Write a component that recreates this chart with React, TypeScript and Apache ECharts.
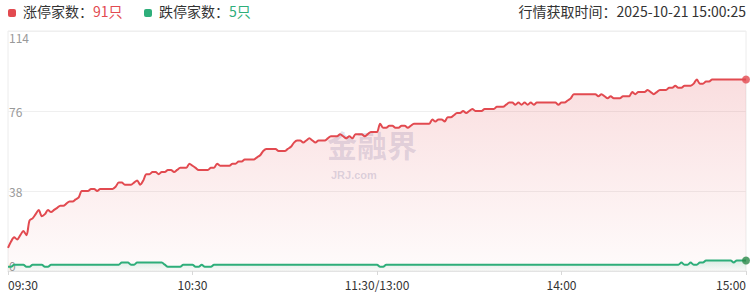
import React, { useEffect, useRef } from "react";
import * as echarts from "echarts";

const timeTicks = ["09:30", "10:30", "11:30/13:00", "14:00", "15:00"];
const upTitle = "涨停家数：";
const downTitle = "跌停家数：";
const updateText = "行情获取时间：2025-10-21 15:00:25";

const upCounts = [
  11, 14, 16, 15, 17, 19, 17, 24, 25, 27, 29, 26, 27, 29, 28, 29, 30, 31, 31, 32,
  33, 33, 34, 35, 38, 38, 38, 39, 39, 38, 39, 39, 39, 39, 39, 40, 42, 42, 41, 41,
  41, 42, 43, 41, 43, 46, 46, 47, 47, 46, 47, 47, 48, 48, 47, 48, 49, 49, 49, 51,
  50, 49, 48, 48, 48, 48, 49, 49, 51, 50, 50, 50, 50, 51, 51, 52, 52, 53, 53, 53,
  53, 54, 55, 57, 58, 58, 58, 58, 57, 57, 57, 58, 59, 61, 62, 62, 61, 62, 63, 62,
  61, 62, 62, 62, 63, 64, 64, 64, 65, 64, 63, 64, 63, 65, 65, 65, 64, 65, 66, 66,
  66, 70, 68, 68, 69, 69, 68, 68, 69, 69, 68, 69, 70, 70, 70, 70, 70, 70, 72, 71,
  72, 72, 71, 73, 73, 74, 75, 75, 76, 75, 76, 77, 76, 76, 76, 77, 77, 77, 77, 78,
  78, 78, 79, 80, 80, 79, 80, 79, 80, 79, 80, 79, 80, 80, 80, 80, 80, 80, 80, 79,
  80, 80, 81, 82, 84, 84, 84, 84, 84, 84, 84, 84, 83, 84, 83, 82, 83, 82, 82, 82,
  83, 83, 83, 85, 84, 85, 85, 85, 86, 85, 84, 85, 86, 86, 86, 87, 87, 88, 87, 87,
  88, 88, 88, 89, 91, 89, 89, 90, 90, 91, 91, 91, 91, 91, 91, 91, 91, 91, 91, 91,
  91,
];

const downCounts = [
  2, 2, 3, 3, 3, 3, 2, 2, 3, 3, 3, 3, 2, 2, 3, 3, 3, 3, 3, 3,
  3, 3, 3, 3, 3, 3, 3, 3, 3, 3, 3, 3, 3, 3, 3, 3, 3, 4, 4, 4,
  3, 3, 4, 4, 4, 4, 4, 4, 4, 4, 4, 3, 2, 2, 2, 2, 2, 3, 3, 3,
  3, 2, 2, 3, 2, 2, 2, 3, 3, 3, 3, 3, 3, 3, 3, 3, 3, 3, 3, 3,
  3, 3, 3, 3, 3, 3, 3, 3, 3, 3, 3, 3, 3, 3, 3, 3, 3, 3, 3, 3,
  3, 3, 3, 3, 3, 3, 3, 3, 3, 3, 3, 3, 3, 3, 3, 3, 3, 3, 3, 3,
  3, 2, 2, 3, 3, 3, 3, 3, 3, 3, 3, 3, 3, 3, 3, 3, 3, 3, 3, 3,
  3, 3, 3, 3, 3, 3, 3, 3, 3, 3, 3, 3, 3, 3, 3, 3, 3, 3, 3, 3,
  3, 3, 3, 3, 3, 3, 3, 3, 3, 3, 3, 3, 3, 3, 3, 3, 3, 3, 3, 3,
  3, 3, 3, 3, 3, 3, 3, 3, 3, 3, 3, 3, 3, 3, 3, 3, 3, 3, 3, 3,
  3, 3, 3, 3, 3, 3, 3, 3, 3, 3, 3, 3, 3, 3, 3, 3, 3, 3, 3, 4,
  3, 3, 4, 3, 3, 4, 4, 5, 5, 5, 5, 5, 5, 5, 5, 5, 4, 5, 5, 5,
  5,
];

const RED = "#e24a50";
const GREEN = "#2eae7a";
const FONT = "'Noto Sans CJK SC', 'Microsoft YaHei', sans-serif";

export default function App() {
  const ref = useRef<HTMLDivElement>(null);
  useEffect(() => {
    if (!ref.current) return;
    const chart = echarts.init(ref.current, undefined, { renderer: "svg" });
    const upData = upCounts.map((v, i) => [i, v]);
    const downData = downCounts.map((v, i) => [i, v]);
    const lastIdx = upCounts.length - 1;
    chart.setOption({
      animation: false,
      textStyle: { fontFamily: FONT },
      grid: {
        left: 8,
        right: 8,
        top: 31,
        bottom: 28,
        show: true,
        borderColor: "#ececec",
        borderWidth: 1,
      },
      graphic: [
        { type: "rect", left: 8, top: 9, shape: { width: 8, height: 8, r: 2 }, style: { fill: RED } },
        {
          type: "text",
          left: 23,
          top: 4,
          style: {
            text: `{a|${upTitle}}{b|${upCounts[lastIdx]}只}`,
            rich: {
              a: { fontSize: 14, fill: "#333", fontFamily: FONT },
              b: { fontSize: 14, fill: RED, fontFamily: FONT },
            },
          },
        },
        { type: "rect", left: 144, top: 9, shape: { width: 8, height: 8, r: 2 }, style: { fill: GREEN } },
        {
          type: "text",
          left: 159,
          top: 4,
          style: {
            text: `{a|${downTitle}}{b|${downCounts[lastIdx]}只}`,
            rich: {
              a: { fontSize: 14, fill: "#333", fontFamily: FONT },
              b: { fontSize: 14, fill: GREEN, fontFamily: FONT },
            },
          },
        },
        {
          type: "text",
          right: 8,
          top: 4,
          style: { text: updateText, fontSize: 14, fill: "#333", fontFamily: FONT },
        },
        {
          type: "text",
          left: 327,
          top: 129,
          silent: true,
          style: {
            text: "金融界",
            fontSize: 30,
            lineHeight: 30,
            fontWeight: "bold",
            fill: "rgba(95,105,160,0.2)",
            fontFamily: FONT,
          },
        },
        {
          type: "text",
          left: 331,
          top: 169,
          silent: true,
          style: {
            text: "JRJ.com",
            fontSize: 11,
            lineHeight: 11,
            fontWeight: "bold",
            fill: "rgba(95,105,160,0.24)",
            fontFamily: "Arial, sans-serif",
          },
        },
      ],
      xAxis: {
        type: "value",
        min: 0,
        max: 240,
        interval: 60,
        axisLine: { show: true, lineStyle: { color: "#e3e3e3" } },
        axisTick: { show: true, length: 4, lineStyle: { color: "#d8d8d8" } },
        splitLine: { show: false },
        axisLabel: {
          color: "#333",
          fontSize: 12,
          margin: 7,
          fontFamily: FONT,
          alignMinLabel: "left",
          alignMaxLabel: "right",
          formatter: (v: number) => timeTicks[Math.round(v / 60)] ?? "",
        },
      },
      yAxis: {
        type: "value",
        min: 0,
        max: 114,
        interval: 38,
        axisLine: { show: false },
        axisTick: { show: false },
        splitLine: { show: true, lineStyle: { color: "#efefef" } },
        axisLabel: {
          inside: true,
          margin: 1,
          color: "#999",
          fontSize: 12,
          fontFamily: FONT,
          verticalAlignMinLabel: "bottom",
          verticalAlignMaxLabel: "top",
        },
      },
      series: [
        {
          type: "line",
          data: upData,
          symbol: "none",
          smooth: 0.3,
          lineStyle: { color: RED, width: 2 },
          areaStyle: {
            color: new echarts.graphic.LinearGradient(0, 0, 0, 1, [
              { offset: 0, color: "rgba(226,74,80,0.26)" },
              { offset: 1, color: "rgba(226,74,80,0.03)" },
            ]),
          },
          z: 2,
        },
        {
          type: "line",
          data: downData,
          symbol: "none",
          smooth: 0.3,
          lineStyle: { color: GREEN, width: 2 },
          areaStyle: {
            color: new echarts.graphic.LinearGradient(0, 0, 0, 1, [
              { offset: 0, color: "rgba(46,174,122,0.25)" },
              { offset: 1, color: "rgba(46,174,122,0.03)" },
            ]),
          },
          z: 3,
        },
        {
          type: "scatter",
          data: [upData[lastIdx]],
          symbolSize: 8,
          itemStyle: { color: RED },
          z: 4,
        },
        {
          type: "scatter",
          data: [downData[lastIdx]],
          symbolSize: 8,
          itemStyle: { color: "#2a8a4a" },
          z: 4,
        },
      ],
    });
    return () => chart.dispose();
  }, []);
  return (
    <div
      ref={ref}
      style={{ position: "absolute", left: 0, top: 0, width: 754, height: 299, background: "#fff" }}
    />
  );
}
